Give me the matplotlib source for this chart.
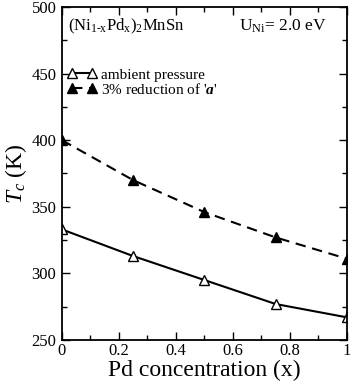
import matplotlib
matplotlib.use("Agg")
import matplotlib.pyplot as plt
from matplotlib.ticker import MultipleLocator, FixedLocator

plt.rcParams['font.family'] = ['Liberation Serif', 'DejaVu Serif']
plt.rcParams['mathtext.fontset'] = 'custom'
plt.rcParams['mathtext.rm'] = 'Liberation Serif'
plt.rcParams['mathtext.it'] = 'Liberation Serif:italic'
plt.rcParams['mathtext.bf'] = 'Liberation Serif:bold'
plt.rcParams['mathtext.bfit'] = 'Liberation Serif:italic:bold'

pd_conc = [0.0, 0.25, 0.5, 0.75, 1.0]
tc_ambient = [333, 313, 295, 277, 267]
tc_reduced = [400, 370, 346, 327, 311]
x_ticks = [0, 0.2, 0.4, 0.6, 0.8, 1]
x_tick_labels = ['0', '0.2', '0.4', '0.6', '0.8', '1']
y_ticks = [250, 300, 350, 400, 450, 500]

fig = plt.figure(figsize=(3.54, 3.84), dpi=100)
ax = fig.add_axes([0.175, 0.1146, 0.805, 0.8672])

ax.plot(pd_conc, tc_ambient, color='black', lw=1.5, marker='^', ms=7.5,
        mfc='white', mec='black', mew=1.0, label='ambient pressure')
ax.plot(pd_conc, tc_reduced, color='black', lw=1.5, ls=(0, (5, 3.2)), marker='^', ms=7.5,
        mfc='black', mec='black', label="3% reduction of '$\\mathbfit{a}$'")

ax.set_xlim(0, 1)
ax.set_ylim(250, 500)
ax.xaxis.set_major_locator(FixedLocator(x_ticks))
ax.set_xticklabels(x_tick_labels)
ax.xaxis.set_minor_locator(MultipleLocator(0.1))
ax.yaxis.set_major_locator(FixedLocator(y_ticks))
ax.yaxis.set_minor_locator(MultipleLocator(25))
ax.tick_params(which='both', direction='in', top=True, right=True, labelsize=12, pad=4, width=1.0)
ax.tick_params(axis='x', which='both', pad=2.5)
ax.tick_params(which='major', length=6)
ax.tick_params(which='minor', length=3.5)
for s in ax.spines.values():
    s.set_linewidth(1.3)

ax.set_xlabel('Pd concentration (x)', fontsize=17, labelpad=0.5)
ax.set_ylabel('$T_c$ (K)', fontsize=17, labelpad=2)

ax.text(0.02, 0.93, r'$\mathrm{(Ni_{1\text{-}x}Pd_{x})_{2}MnSn}$', transform=ax.transAxes,
        fontsize=12, ha='left', va='baseline')
ax.text(0.62, 0.93, r'$\mathrm{U_{Ni}}$= 2.0 eV', transform=ax.transAxes,
        fontsize=12.5, ha='left', va='baseline')

ax.legend(loc='upper left', bbox_to_anchor=(0.01, 0.826), frameon=False, fontsize=11,
          numpoints=2, handlelength=1.9, handletextpad=0.3, labelspacing=0.0,
          borderaxespad=0.0, borderpad=0.2)

fig.savefig('out.png', dpi=100)
